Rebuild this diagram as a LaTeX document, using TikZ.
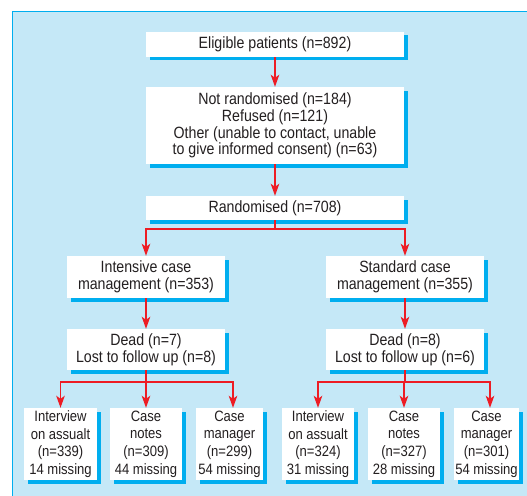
\documentclass[tikz,border=0pt]{standalone}
\usepackage{fontspec}
\setmainfont{Liberation Sans}[FakeStretch=0.87]
\usetikzlibrary{arrows.meta,shadows}
\definecolor{panelbg}{RGB}{197,232,247}
\definecolor{cyanb}{RGB}{0,174,239}
\definecolor{redarrow}{RGB}{237,28,36}
\definecolor{txt}{RGB}{35,31,32}
\begin{document}
\begin{tikzpicture}[x=1pt,y=-1pt,
  box/.style={fill=white, text=txt, inner sep=0pt, align=center,
    font=\fontsize{16.3}{16.7}\selectfont,
    drop shadow={shadow xshift=3.5pt, shadow yshift=-3.5pt, fill=cyanb, opacity=1}},
  smallbox/.style={box, font=\fontsize{15}{17.6}\selectfont, minimum height=72pt},
  arr/.style={draw=redarrow, line width=1.4pt, -{Stealth[length=12pt,width=8.5pt,inset=3pt]}},
  ln/.style={draw=redarrow, line width=1.4pt}]
\useasboundingbox (0,0) rectangle (527,495);
\fill[panelbg] (12,12) rectangle (530,498);
\draw[cyanb, line width=1pt] (12,498) -- (12,12) -- (530,12);

\node[box, minimum width=258pt, minimum height=25pt] (elig) at (275,44.5) {Eligible patients (n=892)};
\node[box, minimum width=258pt, minimum height=77pt] (notr) at (275,125.5) {Not randomised (n=184)\\Refused (n=121)\\Other (unable to contact, unable\\to give informed consent) (n=63)};
\node[box, minimum width=258pt, minimum height=24pt] (rand) at (275,208) {Randomised (n=708)};

\node[box, minimum width=158pt, minimum height=42pt] (intL) at (146,277) {Intensive case\\management (n=353)};
\node[box, minimum width=158pt, minimum height=41pt] (deadL) at (146,349.5) {Dead (n=7)\\Lost to follow up (n=8)};
\node[box, minimum width=158pt, minimum height=42pt] (intR) at (405,277) {Standard case\\management (n=355)};
\node[box, minimum width=158pt, minimum height=41pt] (deadR) at (405,349.5) {Dead (n=8)\\Lost to follow up (n=6)};

\node[smallbox, minimum width=73pt] (l1) at (60.5,444) {Interview\\on assualt\\(n=339)\\14 missing};
\node[smallbox, minimum width=72pt] (l2) at (146,444) {Case\\notes\\(n=309)\\44 missing};
\node[smallbox, minimum width=67pt] (l3) at (229.5,444) {Case\\manager\\(n=299)\\54 missing};
\node[smallbox, minimum width=72pt] (r1) at (318,444) {Interview\\on assualt\\(n=324)\\31 missing};
\node[smallbox, minimum width=72pt] (r2) at (404,444) {Case\\notes\\(n=327)\\28 missing};
\node[smallbox, minimum width=65pt] (r3) at (486.5,444) {Case\\manager\\(n=301)\\54 missing};

\draw[arr] (elig) -- (notr);
\draw[arr] (notr) -- (rand);
\coordinate (br0) at (275,229);
\draw[ln] (rand) -- (br0);
\draw[arr] (br0) -| (intL);
\draw[arr] (br0) -| (intR);
\draw[arr] (intL) -- (deadL);
\draw[arr] (intR) -- (deadR);

\coordinate (brL) at (146,382);
\draw[ln] (deadL) -- (brL);
\draw[arr] (brL) -| (l1);
\draw[arr] (brL) -- (l2);
\draw[arr] (brL) -| ([xshift=3.5pt]l3.north);
\coordinate (brR) at (405,382);
\draw[ln] (deadR) -- (brR);
\draw[arr] (brR) -| (r1);
\draw[arr] (brR) -| (r2);
\draw[arr] (brR) -| ([xshift=3.5pt]r3.north);
\end{tikzpicture}
\end{document}
